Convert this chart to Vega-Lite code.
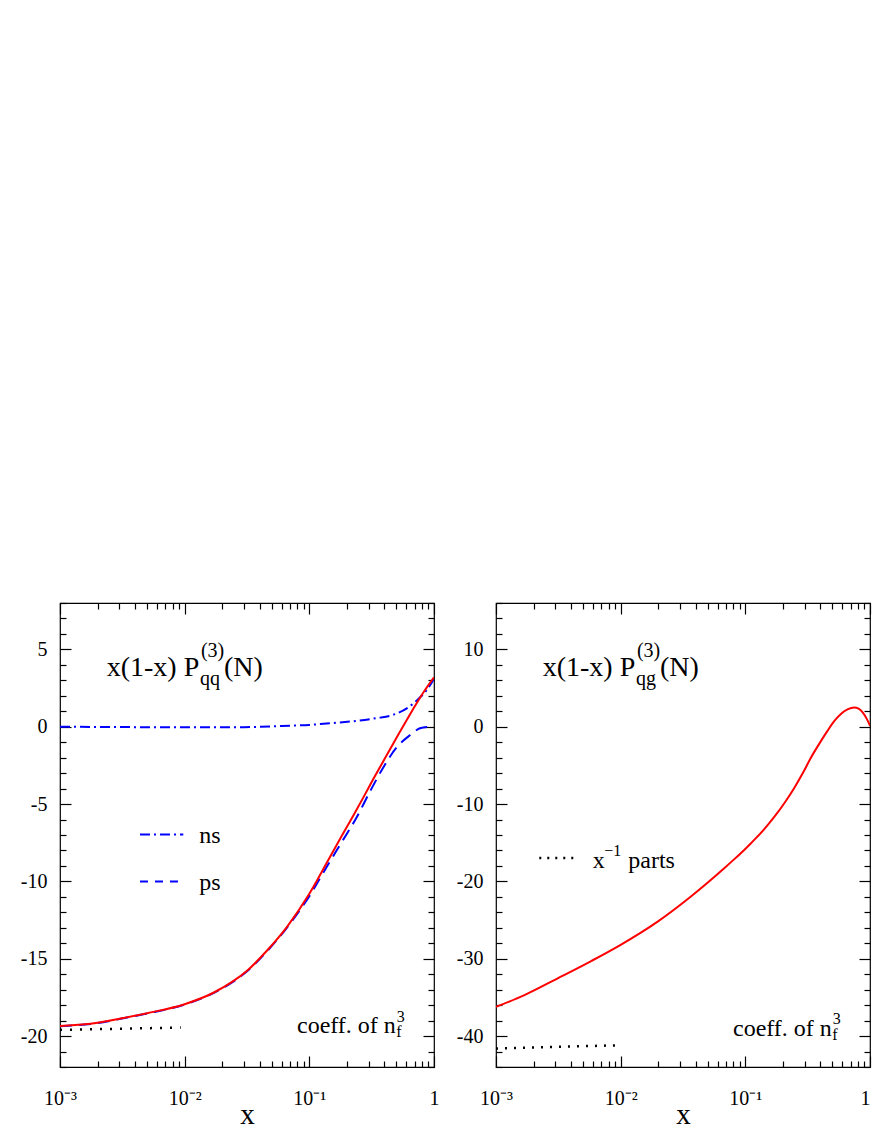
{
  "$schema": "https://vega.github.io/schema/vega-lite/v6.json",
  "background": "white",
  "padding": {"left": 19, "top": 592, "right": 0, "bottom": 0},
  "spacing": 15,
  "datasets": {
    "qq": [
      {"x": 0.001, "y": -19.35}, {"x": 0.002, "y": -19.14}, {"x": 0.003, "y": -18.88}, {"x": 0.005, "y": -18.52},
      {"x": 0.01, "y": -17.94}, {"x": 0.017, "y": -17.2}, {"x": 0.024, "y": -16.5}, {"x": 0.032, "y": -15.74},
      {"x": 0.046, "y": -14.45}, {"x": 0.066, "y": -12.95}, {"x": 0.1, "y": -10.8}, {"x": 0.138, "y": -8.8},
      {"x": 0.178, "y": -7.2}, {"x": 0.225, "y": -5.75}, {"x": 0.27, "y": -4.6}, {"x": 0.325, "y": -3.4},
      {"x": 0.417, "y": -1.85}, {"x": 0.533, "y": -0.33}, {"x": 0.681, "y": 1.15}, {"x": 0.819, "y": 2.2},
      {"x": 1.0, "y": 3.2}
    ],
    "ps": [
      {"x": 0.001, "y": -19.37}, {"x": 0.002, "y": -19.16}, {"x": 0.003, "y": -18.9}, {"x": 0.005, "y": -18.54},
      {"x": 0.01, "y": -17.96}, {"x": 0.017, "y": -17.22}, {"x": 0.024, "y": -16.53}, {"x": 0.032, "y": -15.78},
      {"x": 0.046, "y": -14.5}, {"x": 0.066, "y": -13.0}, {"x": 0.1, "y": -10.95}, {"x": 0.138, "y": -9.05},
      {"x": 0.187, "y": -7.3}, {"x": 0.24, "y": -5.85}, {"x": 0.306, "y": -4.2}, {"x": 0.392, "y": -2.63},
      {"x": 0.501, "y": -1.34}, {"x": 0.641, "y": -0.55}, {"x": 0.771, "y": -0.1}, {"x": 0.88, "y": -0.01},
      {"x": 1.0, "y": 0.0}
    ],
    "ns": [
      {"x": 0.001, "y": 0.0}, {"x": 0.003, "y": -0.02}, {"x": 0.01, "y": -0.04}, {"x": 0.03, "y": -0.03},
      {"x": 0.06, "y": 0.05}, {"x": 0.1, "y": 0.12}, {"x": 0.122, "y": 0.17}, {"x": 0.176, "y": 0.28},
      {"x": 0.247, "y": 0.39}, {"x": 0.347, "y": 0.56}, {"x": 0.471, "y": 0.77}, {"x": 0.621, "y": 1.25},
      {"x": 0.771, "y": 1.89}, {"x": 0.88, "y": 2.4}, {"x": 1.0, "y": 3.1}
    ],
    "qg": [
      {"x": 0.001, "y": -36.23}, {"x": 0.00169, "y": -34.7}, {"x": 0.0031, "y": -32.56}, {"x": 0.0058, "y": -30.3},
      {"x": 0.01, "y": -28.2}, {"x": 0.0198, "y": -25.2}, {"x": 0.0366, "y": -21.95}, {"x": 0.0677, "y": -18.3},
      {"x": 0.08, "y": -17.25}, {"x": 0.098, "y": -15.93}, {"x": 0.11, "y": -15.13}, {"x": 0.1216, "y": -14.41},
      {"x": 0.1419, "y": -13.23}, {"x": 0.155, "y": -12.5}, {"x": 0.1706, "y": -11.67}, {"x": 0.21, "y": -9.67},
      {"x": 0.2468, "y": -7.92}, {"x": 0.29, "y": -5.96}, {"x": 0.3357, "y": -4.0}, {"x": 0.39, "y": -2.25},
      {"x": 0.4573, "y": -0.5}, {"x": 0.52, "y": 0.78}, {"x": 0.5843, "y": 1.65}, {"x": 0.66, "y": 2.25},
      {"x": 0.7468, "y": 2.5}, {"x": 0.81, "y": 2.35}, {"x": 0.873, "y": 1.86}, {"x": 0.94, "y": 1.05},
      {"x": 1.0, "y": 0.13}
    ]
  },
  "hconcat": [
    {
      "width": 374,
      "height": 464,
      "layer": [
        {
          "data": {"name": "ns"},
          "mark": {"type": "line", "color": "#0000ff", "strokeWidth": 2, "strokeDash": [10, 4, 2, 4], "interpolate": "monotone", "clip": true},
          "encoding": {
            "x": {"field": "x", "type": "quantitative",
              "scale": {"type": "log", "domain": [0.001, 1], "nice": false},
              "axis": {"orient": "bottom", "title": "x",
                "values": [0.001,0.002,0.003,0.004,0.005,0.006,0.007,0.008,0.009,0.01,0.02,0.03,0.04,0.05,0.06,0.07,0.08,0.09,0.1,0.2,0.3,0.4,0.5,0.6,0.7,0.8,0.9,1],
                "labelExpr": "datum.value < 0.0015 ? '10⁻³' : abs(datum.value - 0.01) < 1e-6 ? '10⁻²' : abs(datum.value - 0.1) < 1e-6 ? '10⁻¹' : datum.value > 0.99 ? '1' : ''",
                "tickSize": {"condition": {"test": "abs(log(datum.value)/LN10 - round(log(datum.value)/LN10)) < 0.001", "value": -11}, "value": -6},
                "labelPadding": 32}},
            "y": {"field": "y", "type": "quantitative",
              "scale": {"domain": [-22, 8], "nice": false, "zero": false},
              "axis": {"orient": "left", "title": null,
                "values": [-22,-21,-20,-19,-18,-17,-16,-15,-14,-13,-12,-11,-10,-9,-8,-7,-6,-5,-4,-3,-2,-1,0,1,2,3,4,5,6,7,8],
                "labelExpr": "datum.value % 5 == 0 ? '' + datum.value : ''",
                "tickSize": {"condition": {"test": "datum.value % 5 == 0", "value": -11}, "value": -6},
                "labelPadding": 24}}
          }
        },
        {
          "data": {"name": "ps"},
          "mark": {"type": "line", "color": "#0000ff", "strokeWidth": 2, "strokeDash": [12, 7], "interpolate": "monotone", "clip": true},
          "encoding": {
            "x": {"field": "x", "type": "quantitative",
              "axis": {"orient": "top", "title": null, "labels": false,
                "values": [0.001,0.002,0.003,0.004,0.005,0.006,0.007,0.008,0.009,0.01,0.02,0.03,0.04,0.05,0.06,0.07,0.08,0.09,0.1,0.2,0.3,0.4,0.5,0.6,0.7,0.8,0.9,1],
                "tickSize": {"condition": {"test": "abs(log(datum.value)/LN10 - round(log(datum.value)/LN10)) < 0.001", "value": -11}, "value": -6}}},
            "y": {"field": "y", "type": "quantitative",
              "axis": {"orient": "right", "title": null, "labels": false,
                "values": [-22,-21,-20,-19,-18,-17,-16,-15,-14,-13,-12,-11,-10,-9,-8,-7,-6,-5,-4,-3,-2,-1,0,1,2,3,4,5,6,7,8],
                "tickSize": {"condition": {"test": "datum.value % 5 == 0", "value": -11}, "value": -6}}}
          }
        },
        {
          "data": {"name": "qq"},
          "mark": {"type": "line", "color": "#ff0000", "strokeWidth": 2, "interpolate": "monotone", "clip": true},
          "encoding": {
            "x": {"field": "x", "type": "quantitative", "axis": null},
            "y": {"field": "y", "type": "quantitative", "axis": null}
          }
        },
        {
          "data": {"values": [{"x": 0.001, "y": -19.6}, {"x": 0.0093, "y": -19.45}]},
          "mark": {"type": "line", "color": "black", "strokeWidth": 2.5, "strokeDash": [2, 8]},
          "encoding": {
            "x": {"field": "x", "type": "quantitative", "axis": null},
            "y": {"field": "y", "type": "quantitative", "axis": null}
          }
        },
        {
          "data": {"values": [{"x": 0.00438, "y": -6.97}, {"x": 0.00975, "y": -6.97}]},
          "mark": {"type": "line", "color": "#0000ff", "strokeWidth": 2, "strokeDash": [10, 4, 2, 4]},
          "encoding": {
            "x": {"field": "x", "type": "quantitative", "axis": null},
            "y": {"field": "y", "type": "quantitative", "axis": null}
          }
        },
        {
          "data": {"values": [{"x": 0.00438, "y": -10.0}, {"x": 0.00975, "y": -10.0}]},
          "mark": {"type": "line", "color": "#0000ff", "strokeWidth": 2, "strokeDash": [8, 7]},
          "encoding": {
            "x": {"field": "x", "type": "quantitative", "axis": null},
            "y": {"field": "y", "type": "quantitative", "axis": null}
          }
        },
        {
          "data": {"values": [{"x": 0.002368, "y": 3.29, "t": "x(1-x) P"}, {"x": 0.02066, "y": 3.29, "t": "(N)"}]},
          "mark": {"type": "text", "align": "left", "baseline": "alphabetic", "font": "Liberation Serif", "fontSize": 28, "color": "black"},
          "encoding": {
            "x": {"field": "x", "type": "quantitative", "axis": null},
            "y": {"field": "y", "type": "quantitative", "axis": null},
            "text": {"field": "t"}
          }
        },
        {
          "data": {"values": [{"x": 0.01327, "y": 2.71, "t": "qq"}, {"x": 0.01351, "y": 4.5, "t": "(3)"}]},
          "mark": {"type": "text", "align": "left", "baseline": "alphabetic", "font": "Liberation Serif", "fontSize": 20, "color": "black"},
          "encoding": {
            "x": {"field": "x", "type": "quantitative", "axis": null},
            "y": {"field": "y", "type": "quantitative", "axis": null},
            "text": {"field": "t"}
          }
        },
        {
          "data": {"values": [{"x": 0.0796, "y": -19.81, "t": "coeff. of n"}, {"x": 0.01309, "y": -7.53, "t": "ns"}, {"x": 0.01309, "y": -10.58, "t": "ps"}]},
          "mark": {"type": "text", "align": "left", "baseline": "alphabetic", "font": "Liberation Serif", "fontSize": 24, "color": "black"},
          "encoding": {
            "x": {"field": "x", "type": "quantitative", "axis": null},
            "y": {"field": "y", "type": "quantitative", "axis": null},
            "text": {"field": "t"}
          }
        },
        {
          "data": {"values": [{"x": 0.4977, "y": -20.06, "t": "f"}, {"x": 0.5037, "y": -19.1, "t": "3"}]},
          "mark": {"type": "text", "align": "left", "baseline": "alphabetic", "font": "Liberation Serif", "fontSize": 16, "color": "black"},
          "encoding": {
            "x": {"field": "x", "type": "quantitative", "axis": null},
            "y": {"field": "y", "type": "quantitative", "axis": null},
            "text": {"field": "t"}
          }
        }
      ],
      "resolve": {"axis": {"x": "independent", "y": "independent"}}
    },
    {
      "width": 374,
      "height": 464,
      "layer": [
        {
          "data": {"name": "qg"},
          "mark": {"type": "line", "color": "#ff0000", "strokeWidth": 2, "interpolate": "monotone", "clip": true},
          "encoding": {
            "x": {"field": "x", "type": "quantitative",
              "scale": {"type": "log", "domain": [0.001, 1], "nice": false},
              "axis": {"orient": "bottom", "title": "x",
                "values": [0.001,0.002,0.003,0.004,0.005,0.006,0.007,0.008,0.009,0.01,0.02,0.03,0.04,0.05,0.06,0.07,0.08,0.09,0.1,0.2,0.3,0.4,0.5,0.6,0.7,0.8,0.9,1],
                "labelExpr": "datum.value < 0.0015 ? '10⁻³' : abs(datum.value - 0.01) < 1e-6 ? '10⁻²' : abs(datum.value - 0.1) < 1e-6 ? '10⁻¹' : datum.value > 0.99 ? '1' : ''",
                "labelAlign": {"condition": {"test": "datum.value > 0.99", "value": "right"}, "value": "center"},
                "tickSize": {"condition": {"test": "abs(log(datum.value)/LN10 - round(log(datum.value)/LN10)) < 0.001", "value": -11}, "value": -6},
                "labelPadding": 32}},
            "y": {"field": "y", "type": "quantitative",
              "scale": {"domain": [-44, 16], "nice": false, "zero": false},
              "axis": {"orient": "left", "title": null,
                "values": [-44,-42,-40,-38,-36,-34,-32,-30,-28,-26,-24,-22,-20,-18,-16,-14,-12,-10,-8,-6,-4,-2,0,2,4,6,8,10,12,14,16],
                "labelExpr": "datum.value % 10 == 0 ? '' + datum.value : ''",
                "tickSize": {"condition": {"test": "datum.value % 10 == 0", "value": -11}, "value": -6},
                "labelPadding": 24}}
          }
        },
        {
          "data": {"values": [{"x": 0.001, "y": -41.6}, {"x": 0.0092, "y": -41.2}]},
          "mark": {"type": "line", "color": "black", "strokeWidth": 2.5, "strokeDash": [2, 7]},
          "encoding": {
            "x": {"field": "x", "type": "quantitative",
              "axis": {"orient": "top", "title": null, "labels": false,
                "values": [0.001,0.002,0.003,0.004,0.005,0.006,0.007,0.008,0.009,0.01,0.02,0.03,0.04,0.05,0.06,0.07,0.08,0.09,0.1,0.2,0.3,0.4,0.5,0.6,0.7,0.8,0.9,1],
                "tickSize": {"condition": {"test": "abs(log(datum.value)/LN10 - round(log(datum.value)/LN10)) < 0.001", "value": -11}, "value": -6}}},
            "y": {"field": "y", "type": "quantitative",
              "axis": {"orient": "right", "title": null, "labels": false,
                "values": [-44,-42,-40,-38,-36,-34,-32,-30,-28,-26,-24,-22,-20,-18,-16,-14,-12,-10,-8,-6,-4,-2,0,2,4,6,8,10,12,14,16],
                "tickSize": {"condition": {"test": "datum.value % 10 == 0", "value": -11}, "value": -6}}}
          }
        },
        {
          "data": {"values": [{"x": 0.002224, "y": -16.97}, {"x": 0.004521, "y": -16.97}]},
          "mark": {"type": "line", "color": "black", "strokeWidth": 2.5, "strokeDash": [2, 6]},
          "encoding": {
            "x": {"field": "x", "type": "quantitative", "axis": null},
            "y": {"field": "y", "type": "quantitative", "axis": null}
          }
        },
        {
          "data": {"values": [{"x": 0.002368, "y": 6.62, "t": "x(1-x) P"}, {"x": 0.02066, "y": 6.62, "t": "(N)"}]},
          "mark": {"type": "text", "align": "left", "baseline": "alphabetic", "font": "Liberation Serif", "fontSize": 28, "color": "black"},
          "encoding": {
            "x": {"field": "x", "type": "quantitative", "axis": null},
            "y": {"field": "y", "type": "quantitative", "axis": null},
            "text": {"field": "t"}
          }
        },
        {
          "data": {"values": [{"x": 0.01327, "y": 5.45, "t": "qg"}, {"x": 0.01351, "y": 9.05, "t": "(3)"}]},
          "mark": {"type": "text", "align": "left", "baseline": "alphabetic", "font": "Liberation Serif", "fontSize": 20, "color": "black"},
          "encoding": {
            "x": {"field": "x", "type": "quantitative", "axis": null},
            "y": {"field": "y", "type": "quantitative", "axis": null},
            "text": {"field": "t"}
          }
        },
        {
          "data": {"values": [{"x": 0.0796, "y": -40.0, "t": "coeff. of n"}, {"x": 0.005965, "y": -18.27, "t": "x"}, {"x": 0.01151, "y": -18.27, "t": "parts"}]},
          "mark": {"type": "text", "align": "left", "baseline": "alphabetic", "font": "Liberation Serif", "fontSize": 24, "color": "black"},
          "encoding": {
            "x": {"field": "x", "type": "quantitative", "axis": null},
            "y": {"field": "y", "type": "quantitative", "axis": null},
            "text": {"field": "t"}
          }
        },
        {
          "data": {"values": [{"x": 0.4977, "y": -40.52, "t": "f"}, {"x": 0.5037, "y": -38.44, "t": "3"}, {"x": 0.007389, "y": -16.75, "t": "−1"}]},
          "mark": {"type": "text", "align": "left", "baseline": "alphabetic", "font": "Liberation Serif", "fontSize": 16, "color": "black"},
          "encoding": {
            "x": {"field": "x", "type": "quantitative", "axis": null},
            "y": {"field": "y", "type": "quantitative", "axis": null},
            "text": {"field": "t"}
          }
        }
      ],
      "resolve": {"axis": {"x": "independent", "y": "independent"}}
    }
  ],
  "config": {
    "view": {"stroke": "black", "strokeWidth": 1.2},
    "axis": {
      "domain": false, "grid": false,
      "labelFont": "Liberation Serif", "labelFontSize": 20, "labelColor": "black",
      "tickColor": "black", "tickWidth": 1.2,
      "labelFlush": false, "labelOverlap": false, "labelBound": false,
      "titleFont": "Liberation Serif", "titleFontSize": 29, "titleFontWeight": "normal", "titleColor": "black",
      "titlePadding": -13
    }
  }
}
